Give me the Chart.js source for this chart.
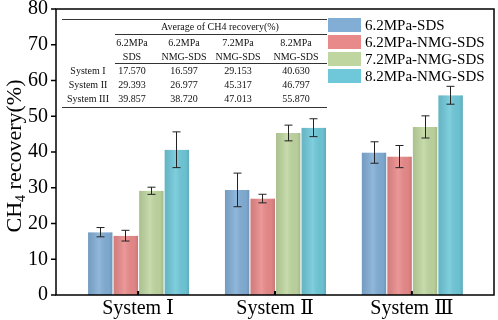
<!DOCTYPE html>
<html>
<head>
<meta charset="utf-8">
<script src="https://cdn.jsdelivr.net/npm/chart.js@4.4.1/dist/chart.umd.min.js"></script>
<style>
  html, body { margin: 0; padding: 0; background: #fff; }
  #wrap { width: 498px; height: 320px; }
</style>
</head>
<body>
<div id="wrap"><canvas id="chart"></canvas></div>
<script>
// data
const systems = ['System Ⅰ', 'System Ⅱ', 'System Ⅲ'];
const rowNames = ['System I', 'System II', 'System III'];
const seriesNames = ['6.2MPa-SDS', '6.2MPa-NMG-SDS', '7.2MPa-NMG-SDS', '8.2MPa-NMG-SDS'];
const colHead1 = ['6.2MPa', '6.2MPa', '7.2MPa', '8.2MPa'];
const colHead2 = ['SDS', 'NMG-SDS', 'NMG-SDS', 'NMG-SDS'];
const sds62 = [17.570, 29.393, 39.857];
const nmg62 = [16.597, 26.977, 38.720];
const nmg72 = [29.153, 45.317, 47.013];
const nmg82 = [40.630, 46.797, 55.870];
const err62 = [1.3, 4.7, 3.0];
const errNmg62 = [1.5, 1.2, 3.1];
const errNmg72 = [1.0, 2.2, 3.1];
const errNmg82 = [5.0, 2.5, 2.5];
const yTicks = [0, 10, 20, 30, 40, 50, 60, 70, 80];

const colors = ['#82aed6', '#e98a8a', '#bfd6a0', '#6fc8d9'];
const values = [sds62, nmg62, nmg72, nmg82];
const errors = [err62, errNmg62, errNmg72, errNmg82];
const serif = '"Liberation Serif", "DejaVu Serif", serif';

const datasets = values.map(function(vals, i) {
    return {
        label: seriesNames[i],
        data: vals.map(function(v, j) { return { x: j, y: v }; }),
        errs: errors[i],
        backgroundColor: colors[i],
        borderColor: '#ffffff',
        borderWidth: { left: 1, right: 0, top: 0, bottom: 0 },
        barPercentage: 1,
        categoryPercentage: 0.746
    };
});

// shading, error bars, frame, ticks, y title, legend and table
const extras = {
    id: 'extras',
    afterDatasetsDraw: function(chart) {
        const ctx = chart.ctx;
        const ys = chart.scales.y;
        const xs = chart.scales.x;
        const a = chart.chartArea;

        ctx.save();
        // soft cylinder-like shading on each bar
        chart.data.datasets.forEach(function(ds, i) {
            chart.getDatasetMeta(i).data.forEach(function(bar) {
                const l = bar.x - bar.width / 2 + 1, r = bar.x + bar.width / 2;
                const g = ctx.createLinearGradient(l, 0, r, 0);
                g.addColorStop(0, 'rgba(0,0,0,0.10)');
                g.addColorStop(0.45, 'rgba(255,255,255,0.12)');
                g.addColorStop(0.85, 'rgba(0,0,0,0.04)');
                g.addColorStop(1, 'rgba(0,0,0,0.14)');
                ctx.fillStyle = g;
                ctx.fillRect(l, bar.y, r - l, bar.base - bar.y);
            });
        });

        ctx.strokeStyle = '#222';
        ctx.lineWidth = 1;
        chart.data.datasets.forEach(function(ds, i) {
            chart.getDatasetMeta(i).data.forEach(function(bar, j) {
                const v = ds.data[j].y, e = ds.errs[j];
                const x = Math.round(bar.x) + 0.5;
                const t = ys.getPixelForValue(v + e), b = ys.getPixelForValue(v - e);
                ctx.beginPath();
                ctx.moveTo(x, t); ctx.lineTo(x, b);
                ctx.moveTo(x - 4, t); ctx.lineTo(x + 4, t);
                ctx.moveTo(x - 4, b); ctx.lineTo(x + 4, b);
                ctx.stroke();
            });
        });

        // frame
        ctx.strokeStyle = '#000';
        ctx.lineWidth = 1.5;
        ctx.strokeRect(a.left, a.top, a.right - a.left, a.bottom - a.top);

        // x ticks pointing inward, y ticks outward
        ctx.lineWidth = 2;
        systems.forEach(function(s, i) {
            const x = xs.getPixelForValue(i);
            ctx.beginPath();
            ctx.moveTo(x, a.bottom); ctx.lineTo(x, a.bottom - 4);
            ctx.stroke();
        });
        ctx.lineWidth = 1.5;
        yTicks.forEach(function(v) {
            const y = ys.getPixelForValue(v);
            ctx.beginPath();
            ctx.moveTo(a.left, y); ctx.lineTo(a.left - 5, y);
            ctx.stroke();
        });

        // y title with subscript
        ctx.fillStyle = '#000';
        ctx.translate(21, (a.top + a.bottom) / 2 + 4);
        ctx.rotate(-Math.PI / 2);
        ctx.textBaseline = 'alphabetic';
        const p1 = 'CH', p3 = ' recovery(%)';
        ctx.font = '14px ' + serif;
        const w2 = ctx.measureText('4').width;
        ctx.font = '22px ' + serif;
        const w1 = ctx.measureText(p1).width, w3 = ctx.measureText(p3).width;
        const x0 = -(w1 + w2 + w3) / 2;
        ctx.textAlign = 'left';
        ctx.fillText(p1, x0, 0);
        ctx.font = '14px ' + serif;
        ctx.fillText('4', x0 + w1, 4);
        ctx.font = '22px ' + serif;
        ctx.fillText(p3, x0 + w1 + w2, 0);
        ctx.setTransform(1, 0, 0, 1, 0, 0);

        // legend
        ctx.font = '15px ' + serif;
        ctx.textAlign = 'left';
        ctx.textBaseline = 'middle';
        seriesNames.forEach(function(name, i) {
            const cy = 25 + i * 17;
            ctx.fillStyle = colors[i];
            ctx.fillRect(328, cy - 7, 33, 14);
            ctx.fillStyle = '#000';
            ctx.fillText(name, 365, cy + 1);
        });

        // inset table
        ctx.strokeStyle = '#333';
        ctx.lineWidth = 1;
        const line = function(x1, x2, y) {
            ctx.beginPath(); ctx.moveTo(x1, y + 0.5); ctx.lineTo(x2, y + 0.5); ctx.stroke();
        };
        line(62, 327, 19);
        line(115, 327, 34);
        line(115, 327, 63);
        line(62, 327, 107);
        ctx.fillStyle = '#111';
        ctx.textAlign = 'center';
        ctx.font = '10px ' + serif;
        ctx.fillText('Average of CH4 recovery(%)', 220, 27);
        const colX = [132, 184, 238, 296];
        colX.forEach(function(x, k) {
            ctx.fillText(colHead1[k], x, 43);
            ctx.fillText(colHead2[k], x, 57);
        });
        rowNames.forEach(function(r, j) {
            const y = 71 + j * 14;
            ctx.fillText(r, 88, y);
            values.forEach(function(vals, k) {
                ctx.fillText(vals[j].toFixed(3), colX[k], y);
            });
        });
        ctx.restore();
    }
};

new Chart(document.getElementById('chart'), {
    type: 'bar',
    data: { datasets: datasets },
    options: {
        responsive: true,
        maintainAspectRatio: false,
        animation: false,
        layout: { padding: { top: 9, right: 4, left: 0, bottom: 0 } },
        plugins: { legend: { display: false }, tooltip: { enabled: false } },
        scales: {
            x: {
                type: 'linear',
                offset: false,
                min: -0.6,
                max: 2.6,
                grid: { display: false, drawTicks: false, offset: false },
                border: { display: false },
                afterBuildTicks: function(scale) {
                    scale.ticks = systems.map(function(s, i) { return { value: i }; });
                },
                afterFit: function(scale) {
                    scale.height = 25;
                    scale.paddingLeft = 0;
                    scale.paddingRight = 0;
                },
                ticks: {
                    padding: 2,
                    color: '#000',
                    font: { family: serif, size: 20 },
                    maxRotation: 0,
                    callback: function(v) { return systems[v]; }
                }
            },
            y: {
                min: 0,
                max: 80,
                grid: { display: false, drawTicks: false },
                border: { display: false },
                afterBuildTicks: function(scale) {
                    scale.ticks = yTicks.map(function(v) { return { value: v }; });
                },
                afterFit: function(scale) {
                    scale.width = 56;
                    scale.paddingTop = 0;
                    scale.paddingBottom = 0;
                },
                ticks: {
                    padding: 8,
                    color: '#000',
                    font: { family: serif, size: 20 }
                }
            }
        }
    },
    plugins: [extras]
});
</script>
</body>
</html>
